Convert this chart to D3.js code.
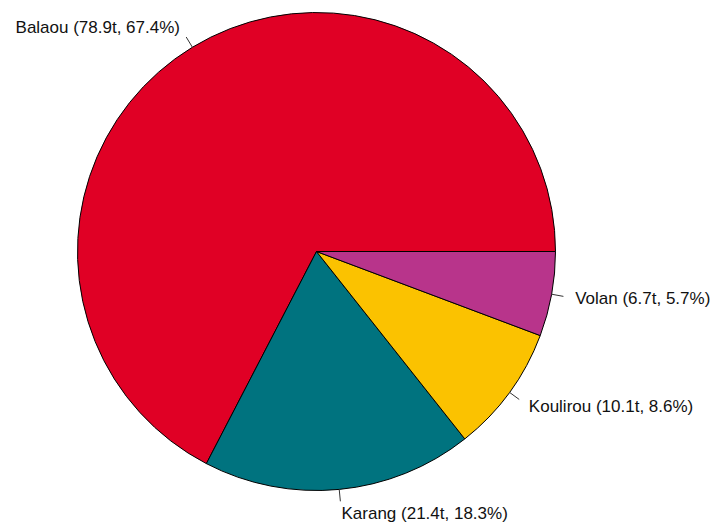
<!DOCTYPE html>
<html>
<head>
<meta charset="utf-8">
<script src="https://cdn.jsdelivr.net/npm/d3@7"></script>
<style>
  body { margin: 0; background: #fff; }
  svg { display: block; }
</style>
</head>
<body>
<div id="chart"></div>
<script>
// harvest by site, tonnes
var sites = ["Balaou", "Karang", "Koulirou", "Volan"];
var tonnes = [78.9, 21.4, 10.1, 6.7];
var colours = ["#E00025", "#00737F", "#FBC200", "#B8348B"];

var width = 714, height = 524;
var cx = 316.5, cy = 251.5, radius = 239;

var total = d3.sum(tonnes);

var svg = d3.select("#chart")
    .append("svg")
    .attr("width", width)
    .attr("height", height);

var g = svg.append("g")
    .attr("transform", "translate(" + cx + "," + cy + ")");

// R style pie: counterclockwise from 3 o'clock
var pie = d3.pie()
    .sort(null)
    .startAngle(Math.PI / 2)
    .endAngle(Math.PI / 2 - 2 * Math.PI)
    .value(function(d){ return d; });

var arcs = pie(tonnes);

var arc = d3.arc().innerRadius(0).outerRadius(radius);

g.selectAll("path.slice")
    .data(arcs)
    .enter()
    .append("path")
    .attr("class", "slice")
    .attr("d", arc)
    .attr("fill", function(d, i){ return colours[i]; })
    .attr("stroke", "#000")
    .attr("stroke-width", 1);

function mid(d){ return (d.startAngle + d.endAngle) / 2; }

g.selectAll("line.tick")
    .data(arcs)
    .enter()
    .append("line")
    .attr("class", "tick")
    .attr("x1", function(d){ return Math.sin(mid(d)) * radius; })
    .attr("y1", function(d){ return -Math.cos(mid(d)) * radius; })
    .attr("x2", function(d){ return Math.sin(mid(d)) * radius * 1.05; })
    .attr("y2", function(d){ return -Math.cos(mid(d)) * radius * 1.05; })
    .attr("stroke", "#333")
    .attr("stroke-width", 1);

g.selectAll("text.label")
    .data(arcs)
    .enter()
    .append("text")
    .attr("class", "label")
    .attr("x", function(d){ return Math.sin(mid(d)) * radius * 1.1; })
    .attr("y", function(d){ return -Math.cos(mid(d)) * radius * 1.1; })
    .attr("dy", "0.35em")
    .attr("text-anchor", function(d){ return Math.sin(mid(d)) > 0 ? "start" : "end"; })
    .style("font-family", "'Liberation Sans', Arial, sans-serif")
    .style("font-size", "17px")
    .attr("fill", "#111")
    .text(function(d, i){
        return sites[i] + " (" + tonnes[i].toFixed(1) + "t, " + (tonnes[i] / total * 100).toFixed(1) + "%)";
    });
</script>
</body>
</html>
